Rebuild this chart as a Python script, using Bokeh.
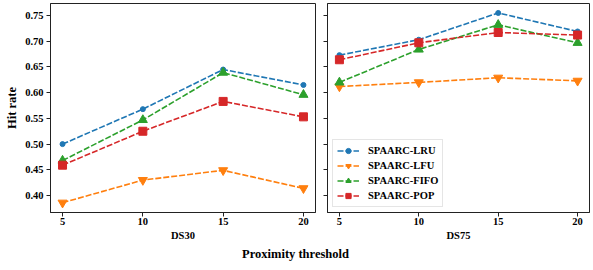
from bokeh.plotting import figure
from bokeh.layouts import column, row
from bokeh.models import Range1d, FixedTicker, Label, Legend, NumeralTickFormatter
from bokeh.embed import file_html
from bokeh.resources import INLINE

thresholds = [5, 10, 15, 20]
series_names = ["SPAARC-LRU", "SPAARC-LFU", "SPAARC-FIFO", "SPAARC-POP"]

ds30_lru = [0.500, 0.568, 0.645, 0.615]
ds30_lfu = [0.386, 0.430, 0.449, 0.414]
ds30_fifo = [0.468, 0.547, 0.639, 0.596]
ds30_pop = [0.459, 0.525, 0.583, 0.553]

ds75_lru = [0.673, 0.703, 0.755, 0.719]
ds75_lfu = [0.612, 0.620, 0.629, 0.623]
ds75_fifo = [0.620, 0.684, 0.732, 0.697]
ds75_pop = [0.664, 0.697, 0.717, 0.712]

y_ticks = [0.40, 0.45, 0.50, 0.55, 0.60, 0.65, 0.70, 0.75]

colors = ["#1f77b4", "#ff7f0e", "#2ca02c", "#d62728"]
markers = ["circle", "inverted_triangle", "triangle", "square"]
msizes = [5, 9, 9, 8]

FONT = "Liberation Serif"
yr = Range1d(0.367, 0.7734)


def make_panel(title, data, fw, left_border, right_border, show_ylabels, legend):
    p = figure(frame_width=fw, frame_height=209, output_backend="svg",
               toolbar_location=None, x_range=Range1d(4.25, 20.75), y_range=yr,
               min_border_left=left_border, min_border_right=right_border,
               min_border_top=3, min_border_bottom=0)
    p.grid.visible = False
    p.outline_line_color = "#222222"
    p.outline_line_width = 1
    p.background_fill_color = "white"
    p.border_fill_color = "white"
    for ax in (p.xaxis[0], p.yaxis[0]):
        ax.axis_line_color = "#222222"
        ax.major_tick_out = 4
        ax.major_tick_in = 0
        ax.minor_tick_line_color = None
        ax.major_tick_line_color = "#222222"
        ax.major_label_text_font = FONT
        ax.major_label_text_font_style = "bold"
        ax.major_label_text_font_size = "10.5px"
        ax.major_label_text_color = "black"
        ax.axis_label_text_font = FONT
        ax.axis_label_text_font_style = "bold"
        ax.axis_label_text_color = "black"
    p.xaxis.ticker = FixedTicker(ticks=thresholds)
    p.yaxis.ticker = FixedTicker(ticks=y_ticks)
    p.yaxis.formatter = NumeralTickFormatter(format="0.00")
    p.xaxis.axis_label = title
    p.xaxis.axis_label_text_font_size = "10.5px"
    p.xaxis.axis_label_standoff = 2
    p.xaxis.major_label_standoff = 1
    p.yaxis.major_label_standoff = 3
    if show_ylabels:
        p.yaxis.axis_label = "Hit rate"
        p.yaxis.axis_label_text_font_size = "12.5px"
        p.yaxis.axis_label_standoff = 3
    else:
        p.yaxis.major_label_overrides = {t: "" for t in y_ticks}
        p.yaxis.major_label_standoff = 0
    items = []
    for name, vals, c, m, s in zip(series_names, data, colors, markers, msizes):
        ln = p.line(thresholds, vals, line_color=c, line_width=1.6, line_dash="6 2")
        sc = p.scatter(thresholds, vals, marker=m, size=s, fill_color=c, line_color=c)
        items.append((name, [ln, sc]))
    if legend:
        lg = Legend(items=items, location="bottom_left")
        lg.label_text_font = FONT
        lg.label_text_font_style = "bold"
        lg.label_text_font_size = "10.5px"
        lg.label_text_color = "black"
        lg.glyph_width = 22
        lg.glyph_height = 13
        lg.label_height = 13
        lg.spacing = 2
        lg.padding = 4
        lg.margin = 5
        lg.label_standoff = 9
        lg.border_line_color = "#cccccc"
        lg.background_fill_alpha = 0.9
        p.add_layout(lg)
    return p


p1 = make_panel("DS30", [ds30_lru, ds30_lfu, ds30_fifo, ds30_pop], 265, 50, 5, True, False)
p2 = make_panel("DS75", [ds75_lru, ds75_lfu, ds75_fifo, ds75_pop], 262, 7, 1, False, True)

p3 = figure(width=590, height=18, output_backend="svg", toolbar_location=None,
            x_range=Range1d(0, 1), y_range=Range1d(0, 1),
            min_border=0)
p3.axis.visible = False
p3.grid.visible = False
p3.outline_line_color = None
p3.add_layout(Label(x=0.5, y=0.4, text="Proximity threshold", text_align="center",
                    text_baseline="middle", text_font=FONT, text_font_style="bold",
                    text_font_size="12.5px", text_color="black"))

layout = column(row(p1, p2, spacing=0), p3, spacing=0)
open("out.html", "w").write(file_html(layout, INLINE))
